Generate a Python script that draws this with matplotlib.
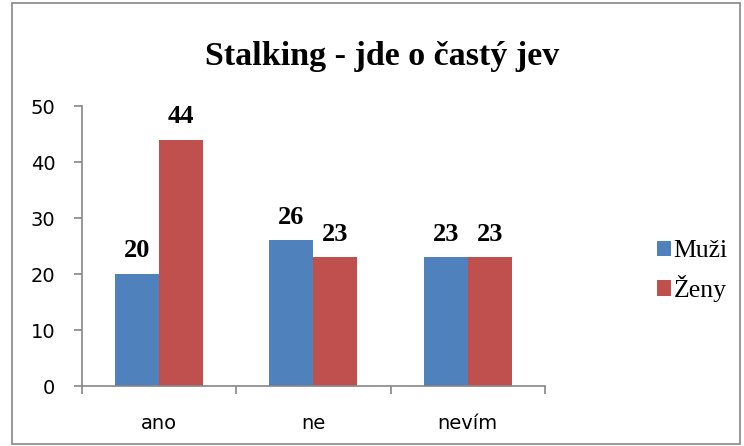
import matplotlib.pyplot as plt
import numpy as np
from matplotlib.patches import Rectangle

# data
categories = ['ano', 'ne', 'nevím']
muzi = [20, 26, 23]
zeny = [44, 23, 23]
series_names = ['Muži', 'Ženy']
colors = ['#4F81BD', '#C0504D']
y_ticks = [0, 10, 20, 30, 40, 50]

fig = plt.figure(figsize=(7.44, 4.46), dpi=100)
ax = fig.add_axes([0.110, 0.1345, 0.6225, 0.6275])

x = np.arange(len(categories))
w = 0.285
b1 = ax.bar(x - w / 2, muzi, w, color=colors[0], label=series_names[0])
b2 = ax.bar(x + w / 2, zeny, w, color=colors[1], label=series_names[1])

# bold value labels above the bars
for bars in (b1, b2):
    for r in bars:
        ax.annotate(f'{int(r.get_height())}', (r.get_x() + r.get_width() / 2, r.get_height()),
                    xytext=(0, 12), textcoords='offset points', ha='center', va='baseline',
                    fontsize=19, fontweight='bold', family='Liberation Serif')

ax.set_xlim(-0.5, len(categories) - 0.5)
ax.set_ylim(0, 50)
ax.set_yticks(y_ticks)
ax.set_xticks(x)
ax.set_xticklabels(categories)
ax.set_xticks(np.arange(-0.5, len(categories)), minor=True)
ax.tick_params(axis='x', which='major', length=0, pad=20)
ax.tick_params(axis='x', which='minor', length=6, color='#868686', width=1.2)
ax.tick_params(axis='y', length=6, color='#868686', width=1.2, pad=13)
for lab in ax.get_xticklabels() + ax.get_yticklabels():
    lab.set_family('DejaVu Sans')
    lab.set_fontsize(14)

for s in ['top', 'right']:
    ax.spines[s].set_visible(False)
for s in ['left', 'bottom']:
    ax.spines[s].set_color('#868686')
    ax.spines[s].set_linewidth(1.2)

fig.text(0.513, 0.854, 'Stalking - jde o častý jev', ha='center', va='baseline',
         fontsize=24.5, fontweight='bold', family='Liberation Serif')

leg = ax.legend(loc='center left', bbox_to_anchor=(1.242, 0.41), frameon=False,
                prop={'family': 'Liberation Serif', 'size': 18.5}, borderpad=0, borderaxespad=0,
                handlelength=0.55, handleheight=0.55, handletextpad=0.1, labelspacing=0.5)

# outer border of the chart area
fig.patches.append(Rectangle((0.016, 0.004), 0.978, 0.99, transform=fig.transFigure,
                             fill=False, edgecolor='#868686', linewidth=1.2))

fig.savefig('out.png', dpi=100)
